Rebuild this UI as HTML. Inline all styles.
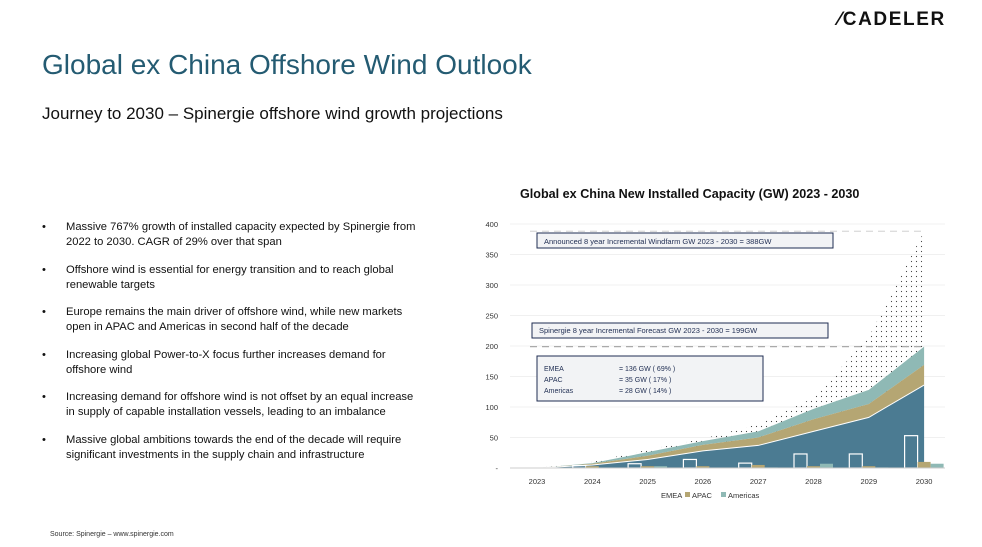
<!DOCTYPE html>
<html><head><meta charset="utf-8">
<style>
body{margin:0;width:982px;height:547px;background:#fff;font-family:"Liberation Sans",sans-serif;overflow:hidden;position:relative}
.t{position:absolute;white-space:nowrap}
ul{position:absolute;left:42px;top:220px;margin:0;padding:0;list-style:none;width:420px}
li{position:relative;padding-left:24px;font-size:11.2px;line-height:15px;color:#111;height:42.5px;white-space:nowrap}
li:before{content:"•";position:absolute;left:0;top:0}
</style></head><body>
<div class="t" style="left:838px;top:9px;font-size:19px;font-weight:900;letter-spacing:1.6px;color:#111">⁄CADELER</div>
<div class="t" style="left:42px;top:49px;font-size:28px;color:#245b72">Global ex China Offshore Wind Outlook</div>
<div class="t" style="left:42px;top:104px;font-size:17px;color:#111">Journey to 2030 – Spinergie offshore wind growth projections</div>
<ul>
<li>Massive 767% growth of installed capacity expected by Spinergie from<br>2022 to 2030. CAGR of 29% over that span</li>
<li>Offshore wind is essential for energy transition and to reach global<br>renewable targets</li>
<li>Europe remains the main driver of offshore wind, while new markets<br>open in APAC and Americas in second half of the decade</li>
<li>Increasing global Power-to-X focus further increases demand for<br>offshore wind</li>
<li>Increasing demand for offshore wind is not offset by an equal increase<br>in supply of capable installation vessels, leading to an imbalance</li>
<li>Massive global ambitions towards the end of the decade will require<br>significant investments in the supply chain and infrastructure</li>
</ul>
<div class="t" style="left:50px;top:531px;font-size:7px;color:#333">Source: Spinergie – www.spinergie.com</div>
<div class="t" style="left:520px;top:187px;font-size:12.6px;font-weight:bold;color:#111">Global ex China New Installed Capacity (GW) 2023 - 2030</div>
<svg id="chart" width="982" height="547" style="position:absolute;left:0;top:0">
<defs><pattern id="dots" width="5" height="5" patternUnits="userSpaceOnUse"><circle cx="1.5" cy="1.5" r="0.6" fill="#444"/></pattern></defs>
</svg>
<script>
const years=["2023","2024","2025","2026","2027","2028","2029","2030"];
const emea=[0,5,14,28,37,60,83,136];
const apac=[0,2,6,10,13,20,22,33];
const americas=[0,1,6,6,10,17,23,30];
const announced=[0,10,30,48,72,115,215,388];
const barEmea=[0,4,7,14,8,23,23,53];
const barApac=[0,3,3,3,5,3,3,10];
const barAmericas=[0,0,3,0,1,7,1,7];
const yTicks=[0,50,100,150,200,250,300,350,400];
const X=i=>537+i*55.3, Y=v=>468-v*0.61;
const svg=document.getElementById('chart');const NS='http://www.w3.org/2000/svg';
function mk(t,a){const e=document.createElementNS(NS,t);for(const k in a)e.setAttribute(k,a[k]);svg.appendChild(e);return e;}
yTicks.forEach(v=>{const g=mk('line',{x1:510,x2:945,y1:Y(v),y2:Y(v),stroke:'#f0f0f0','stroke-width':1});

const t=mk('text',{x:498,y:Y(v)+3,'text-anchor':'end','font-size':7.5,fill:'#333'});t.textContent=v===0?'-':v;
});
years.forEach((y,i)=>{const t=mk('text',{x:X(i),y:484,'text-anchor':'middle','font-size':7.5,fill:'#333'});t.textContent=y;
});
function area(top,bot,fill,name,stroke){let d='M'+top.map((v,i)=>X(i)+','+Y(v)).join('L');for(let i=bot.length-1;i>=0;i--)d+='L'+X(i)+','+Y(bot[i]);
const p=mk('path',{d:d+'Z',fill:fill,stroke:stroke||'none','stroke-width':1});}
const z=years.map(()=>0);
const s1=emea, s2=emea.map((v,i)=>v+apac[i]), s3=s2.map((v,i)=>v+americas[i]);
area(announced,z,'url(#dots)','announced-area');
area(s3,s2,'#8fb9b5','americas-area');
area(s2,s1,'#b5a673','apac-area');
area(s1,z,'#4b7b92','emea-area');
const l=mk('path',{d:'M'+s1.map((v,i)=>X(i)+','+Y(v)).join('L'),fill:'none',stroke:'#fff','stroke-width':1});

years.forEach((y,i)=>{if(i===0)return;const bw=13,x0=X(i)-19.5;
[[barEmea,'none','#fff'],[barApac,'#b5a673','none'],[barAmericas,'#8fb9b5','none']].forEach((s,j)=>{if(!s[0][i])return;
const r=mk('rect',{x:x0+j*bw,y:Y(s[0][i]),width:bw,height:s[0][i]*0.61,fill:s[1],stroke:s[2],'stroke-width':1.2});
});});
const ax=mk('line',{x1:510,x2:945,y1:468,y2:468,stroke:'#ccc'});
[[388,'announced-ref-line'],[199,'forecast-ref-line']].forEach(r=>{const e=mk('line',{x1:530,x2:924,y1:Y(r[0]),y2:Y(r[0]),stroke:r[0]>300?'#ddd':'#aaa','stroke-width':1.3,'stroke-dasharray':'7,5'});
});
function box(x,y,w,h,lines,name){const r=mk('rect',{x,y,width:w,height:h,fill:'#f2f3f5',stroke:'#1f2d52','stroke-width':1});

lines.forEach(L=>{const t=mk('text',{x:L[0],y:L[1],'font-size':L[3]||7.5,fill:'#1f2d52'});t.textContent=L[2];
});}
box(537,233,296,15,[[544,244,'Announced 8 year Incremental Windfarm GW 2023 - 2030 = 388GW']],'announced-box');
box(532,323,296,15,[[539,333,'Spinergie 8 year Incremental Forecast GW 2023 - 2030 = 199GW']],'forecast-box');
box(537,356,226,45,[[544,371,'EMEA',7],[619,371,'= 136 GW ( 69% )',7],[544,382,'APAC',7],[619,382,'=  35 GW ( 17% )',7],[544,393,'Americas',7],[619,393,'=  28 GW ( 14% )',7]],'share-box');
const leg=[['EMEA',null,661],['APAC','#b5a673',692],['Americas','#8fb9b5',728]];
leg.forEach(g=>{if(g[1]){const r=mk('rect',{x:g[2]-7,y:492,width:5,height:5,fill:g[1]});}
const t=mk('text',{x:g[2],y:498,'font-size':7.5,fill:'#333'});t.textContent=g[0];});
</script>
</body></html>
